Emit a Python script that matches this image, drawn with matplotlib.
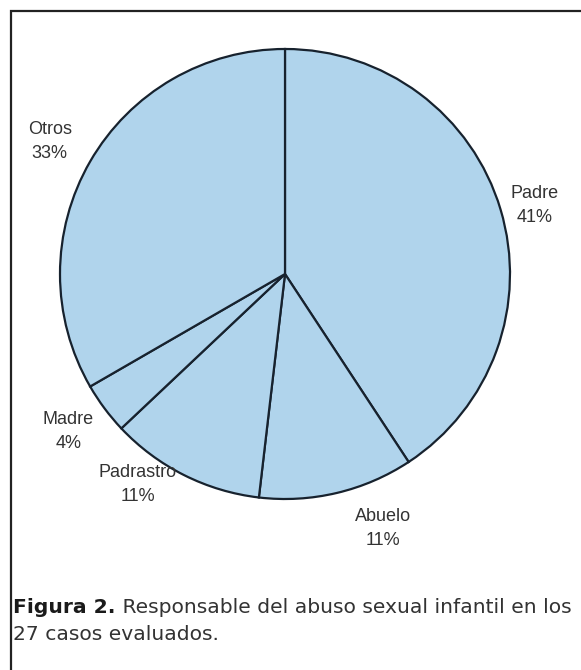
import matplotlib
matplotlib.use("Agg")
import matplotlib.pyplot as plt
import numpy as np

# 27 casos evaluados
categories = ["Padre", "Abuelo", "Padrastro", "Madre", "Otros"]
cases = [11, 3, 3, 1, 9]
pct_labels = ["41%", "11%", "11%", "4%", "33%"]

# label placement: (angle offset from wedge middle in degrees, radius)
label_layout = [(-1.3, 1.15), (7.7, 1.21), (-8.3, 1.14), (-0.7, 1.19), (0.6, 1.20)]

plt.rcParams["font.family"] = ["Liberation Sans", "DejaVu Sans"]

W, H = 581, 670
fig = plt.figure(figsize=(W / 100, H / 100), dpi=100)

# frame around the figure (right and bottom run off the page)
frame = fig.add_axes([0, 0, 1, 1])
frame.set_xlim(0, W)
frame.set_ylim(H, 0)
frame.axis("off")
frame.plot([10.5, 10.5, W + 5], [H + 5, 11, 11], color="#222222", lw=1.6,
           solid_joinstyle="miter")

cx, cy, r = 285, 274, 225
ax = fig.add_axes([(cx - r) / W, (H - cy - r) / H, 2 * r / W, 2 * r / H])
wedges, _ = ax.pie(cases, startangle=90, counterclock=False, radius=1,
                   colors=["#b0d4ec"] * len(cases),
                   wedgeprops=dict(edgecolor="#17222e", linewidth=1.6))
ax.set_xlim(-1, 1)
ax.set_ylim(-1, 1)

for w, name, pct, (dang, dist) in zip(wedges, categories, pct_labels, label_layout):
    mid = np.deg2rad((w.theta1 + w.theta2) / 2 + dang)
    ax.text(dist * np.cos(mid), dist * np.sin(mid), f"{name}\n{pct}",
            ha="center", va="center", fontsize=13, color="#333333",
            linespacing=1.55, clip_on=False)

cap = dict(family="DejaVu Sans", fontsize=14.6, va="baseline", ha="left")
t1 = frame.text(13, 613, "Figura 2.", fontweight="bold", color="#1a1a1a", **cap)
frame.annotate(" Responsable del abuso sexual infantil en los", xy=(1, 0),
               xycoords=t1, color="#333333", annotation_clip=False,
               **{**cap, "va": "bottom"})
frame.text(13, 640, "27 casos evaluados.", color="#333333", **cap)

fig.savefig("out.png", dpi=100)
